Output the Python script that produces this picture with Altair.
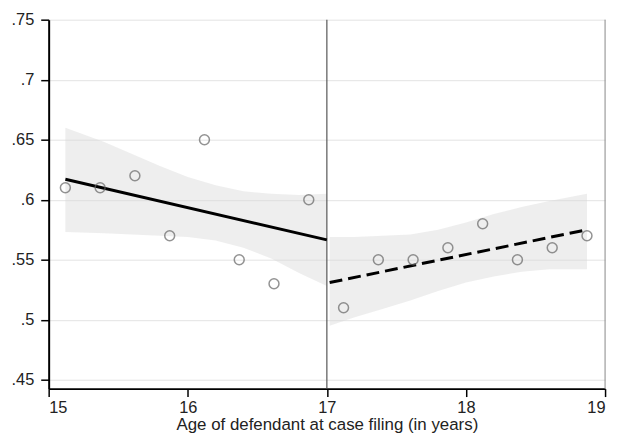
import altair as alt
import pandas as pd

# scatter (binned means)
left_x = [15.12, 15.37, 15.62, 15.87, 16.12, 16.37, 16.62, 16.87]
left_y = [0.61, 0.61, 0.62, 0.57, 0.65, 0.55, 0.53, 0.60]
right_x = [17.12, 17.37, 17.62, 17.87, 18.12, 18.37, 18.62, 18.87]
right_y = [0.51, 0.55, 0.55, 0.56, 0.58, 0.55, 0.56, 0.57]

# fitted lines
fit_left_x = [15.12, 17.0]
fit_left_y = [0.617, 0.5665]
fit_right_x = [17.02, 18.87]
fit_right_y = [0.531, 0.575]

# confidence bands
band_left_x = [15.12, 15.4, 15.6, 15.8, 16.0, 16.2, 16.4, 16.6, 16.8, 17.0]
band_left_hi = [0.660, 0.648, 0.638, 0.628, 0.619, 0.612, 0.607, 0.605, 0.604, 0.605]
band_left_lo = [0.573, 0.572, 0.571, 0.570, 0.569, 0.566, 0.560, 0.551, 0.539, 0.528]
band_right_x = [17.02, 17.2, 17.4, 17.6, 17.8, 18.0, 18.2, 18.4, 18.6, 18.87]
band_right_hi = [0.569, 0.569, 0.570, 0.571, 0.575, 0.581, 0.588, 0.594, 0.599, 0.605]
band_right_lo = [0.495, 0.502, 0.509, 0.516, 0.524, 0.531, 0.536, 0.540, 0.542, 0.542]

x_ticks = [15, 16, 17, 18, 19]
y_ticks = [0.45, 0.5, 0.55, 0.6, 0.65, 0.7, 0.75]
cutoff = [17]
right_edge = [19]

pts = pd.DataFrame({"x": left_x + right_x, "y": left_y + right_y})
band = pd.DataFrame({
    "x": band_left_x + band_right_x,
    "lo": band_left_lo + band_right_lo,
    "hi": band_left_hi + band_right_hi,
    "side": ["L"] * len(band_left_x) + ["R"] * len(band_right_x),
})
fl = pd.DataFrame({"x": fit_left_x, "y": fit_left_y})
fr = pd.DataFrame({"x": fit_right_x, "y": fit_right_y})

xs = alt.Scale(domain=[15, 19], nice=False, zero=False)
ys = alt.Scale(domain=[0.4426, 0.75], nice=False, zero=False)

xax = alt.Axis(values=x_ticks, format="d", title="Age of defendant at case filing (in years)",
               grid=False, labelPadding=3, titlePadding=1)
yax = alt.Axis(values=y_ticks, title=None, grid=True,
               labelExpr="substring(format(datum.value, '.2~f'), 1)", labelPadding=7)

bands = alt.Chart(band).mark_area(color="#d6d6d6", opacity=0.42).encode(
    x=alt.X("x:Q", scale=xs, axis=xax),
    y=alt.Y("lo:Q", scale=ys, axis=yax),
    y2="hi:Q",
    detail="side:N",
)

rule17 = alt.Chart(pd.DataFrame({"x": cutoff})).mark_rule(color="#555555", strokeWidth=1.2).encode(
    x=alt.X("x:Q", scale=xs)
)
rule19 = alt.Chart(pd.DataFrame({"x": right_edge})).mark_rule(color="#888888", strokeWidth=1).encode(
    x=alt.X("x:Q", scale=xs)
)

line_l = alt.Chart(fl).mark_line(color="black", strokeWidth=3).encode(
    x=alt.X("x:Q", scale=xs), y=alt.Y("y:Q", scale=ys)
)
line_r = alt.Chart(fr).mark_line(color="black", strokeWidth=3, strokeDash=[13, 6]).encode(
    x=alt.X("x:Q", scale=xs), y=alt.Y("y:Q", scale=ys)
)

points = alt.Chart(pts).mark_point(shape="circle", filled=False, color="#666666",
                                   size=100, strokeWidth=1.5).encode(
    x=alt.X("x:Q", scale=xs), y=alt.Y("y:Q", scale=ys)
)

chart = alt.layer(bands, rule17, rule19, line_l, line_r, points).properties(
    width=561, height=372,
    autosize=alt.AutoSizeParams(type="none"),
    padding={"left": 41, "top": 10, "right": 8, "bottom": 46},
).configure_view(stroke=None).configure_axis(
    domainColor="black", domainWidth=2, tickColor="black", tickWidth=1.5, tickSize=8,
    labelFont="Liberation Sans", labelFontSize=16.5, labelColor="#222222",
    titleFont="Liberation Sans", titleFontSize=17, titleFontWeight="normal", titleColor="#222222",
    gridColor="#e3e3e3", gridWidth=1,
)

chart.save("out.html", embed_options={"renderer": "svg", "actions": False})
